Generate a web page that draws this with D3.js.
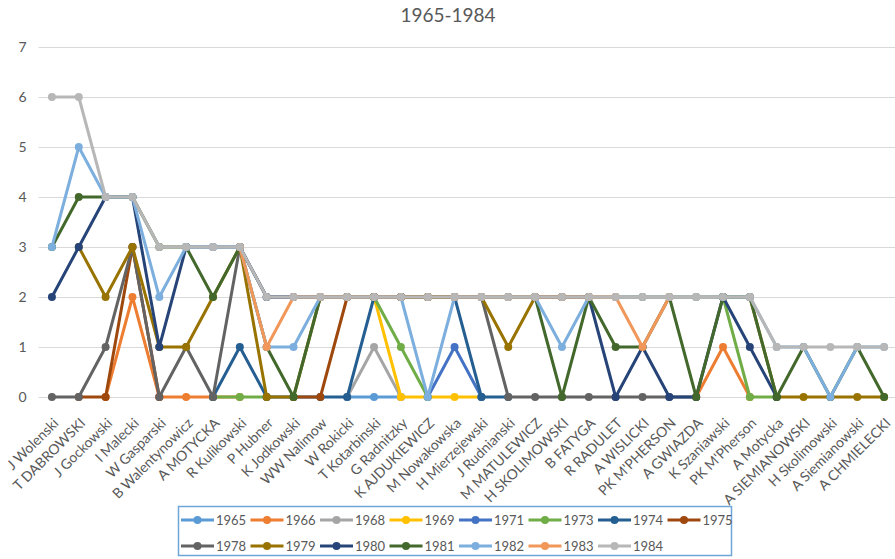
<!DOCTYPE html>
<html>
<head>
<meta charset="utf-8">
<script src="https://cdn.jsdelivr.net/npm/d3@7"></script>
<style>
  body { margin: 0; background: #fff; }
  svg { display: block; font-family: Lato, "Open Sans", sans-serif; }
</style>
</head>
<body>
<svg id="chart"></svg>
<script>
// Categories (authors) along the x axis
const authors = ["J Wolenski", "T DABROWSKI", "J Gockowski", "I Malecki", "W Gasparski",
  "B Walentynowicz", "A MOTYCKA", "R Kulikowski", "P Hubner", "K Jodkowski", "WW Nalimow",
  "W Rokicki", "T Kotarbinski", "G Radnitzky", "K AJDUKIEWICZ", "M Nowakowska",
  "H Mierzejewski", "J Rudnianski", "M MATULEWICZ", "H SKOLIMOWSKI", "B FATYGA",
  "R RADULET", "A WISLICKI", "PK M'PHERSON", "A GWIAZDA", "K Szaniawski", "PK M'Pherson",
  "A Motycka", "A SIEMIANOWSKI", "H Skolimowski", "A Siemianowski", "A CHMIELECKI"];

const yTicks = [0, 1, 2, 3, 4, 5, 6, 7];

// Series values, one per year (null = no point)
const n = null;
const v1965 = [n,n,n,n,n,n,n,n,n,n,n,0,0,0,n,n,n,n,n,n,n,n,n,n,n,n,n,n,n,n,n,n];
const v1966 = [n,n,0,2,0,0,0,0,n,n,n,n,n,n,n,n,n,n,n,n,n,n,n,n,0,1,0,n,n,n,n,n];
const v1968 = [n,n,n,n,n,n,n,n,n,n,n,0,1,0,n,n,n,n,n,n,n,n,n,n,n,n,n,n,n,n,n,n];
const v1969 = [n,n,n,n,n,n,n,n,n,n,n,n,2,0,0,0,0,n,n,n,n,n,n,n,n,n,n,n,n,n,n,n];
const v1971 = [n,n,n,n,n,n,n,n,n,n,n,n,n,n,0,1,0,n,n,n,n,n,n,n,n,n,n,n,n,n,n,n];
const v1973 = [n,n,n,n,n,n,0,0,0,n,n,n,2,1,0,n,n,n,n,n,n,n,n,n,n,2,0,0,n,n,n,n];
const v1974 = [n,n,n,n,n,n,0,1,0,0,0,0,2,2,2,2,0,0,n,n,n,n,n,n,n,n,n,n,n,n,n,n];
const v1975 = [n,0,0,3,0,n,n,n,n,0,0,2,n,n,n,n,n,n,n,n,n,n,n,n,n,n,n,n,n,n,n,n];
const v1978 = [0,0,1,3,0,1,0,3,2,2,2,2,2,2,2,2,2,0,0,0,0,0,0,0,0,n,n,n,n,n,n,n];
const v1979 = [n,3,2,3,1,1,2,3,0,0,2,2,2,2,2,2,2,1,2,2,2,2,2,2,2,2,2,0,0,0,0,0];
const v1980 = [2,3,4,4,1,3,3,3,2,2,2,2,2,2,2,2,2,2,2,2,2,0,1,0,0,2,1,0,n,n,n,n];
const v1981 = [3,4,4,4,3,3,2,3,1,0,2,2,2,2,2,2,2,2,2,0,2,1,1,2,0,2,2,0,1,0,1,0];
const v1982 = [3,5,4,4,2,3,3,3,1,1,2,2,2,2,0,2,2,2,2,1,2,2,2,2,2,2,2,1,1,0,1,1];
const v1983 = [n,n,n,n,n,n,n,3,1,2,2,2,2,2,2,2,2,2,2,2,2,2,1,2,n,n,n,n,n,n,n,n];
const v1984 = [6,6,4,4,3,3,3,3,2,2,2,2,2,2,2,2,2,2,2,2,2,2,2,2,2,2,2,1,1,1,1,1];

const years = ["1965", "1966", "1968", "1969", "1971", "1973", "1974", "1975",
  "1978", "1979", "1980", "1981", "1982", "1983", "1984"];
const values = [v1965, v1966, v1968, v1969, v1971, v1973, v1974, v1975,
  v1978, v1979, v1980, v1981, v1982, v1983, v1984];
const colors = ["#5B9BD5", "#ED7D31", "#A5A5A5", "#FFC000", "#4472C4", "#70AD47", "#255E91",
  "#9E480E", "#636363", "#997300", "#264478", "#43682B", "#7CAFDD", "#F1975A", "#B7B7B7"];

const series = years.map((y, i) => ({ year: y, color: colors[i], values: values[i] }));

// Layout
const width = 895, height = 559;
const textColor = "#595959";

const svg = d3.select("#chart")
  .attr("width", width)
  .attr("height", height);

const x = d3.scalePoint()
  .domain(authors)
  .range([38.5, 897.5])
  .padding(0.5);

const y = d3.scaleLinear()
  .domain([0, 7])
  .range([397, 47]);

// Title
svg.append("text")
  .attr("x", 448)
  .attr("y", 22)
  .attr("text-anchor", "middle")
  .style("font-size", "19px")
  .style("fill", textColor)
  .text("1965-1984");

// Gridlines + y labels
const yAxis = svg.append("g")
  .attr("transform", "translate(38.5,0)")
  .call(d3.axisLeft(y).tickValues(yTicks).tickSize(-(width - 38.5)).tickPadding(12).tickFormat(d3.format("d")));
yAxis.select(".domain").remove();
yAxis.selectAll(".tick line").attr("stroke", "#D9D9D9").attr("stroke-width", 1);
yAxis.selectAll(".tick text")
  .style("font-size", "14px")
  .style("font-family", "Lato, 'Open Sans', sans-serif")
  .attr("fill", textColor);

// Category labels, rotated
const xAxis = svg.append("g")
  .attr("transform", "translate(0,397)")
  .call(d3.axisBottom(x).tickSize(0).tickPadding(0));
xAxis.select(".domain").remove();
xAxis.selectAll(".tick text")
  .style("font-size", "14px")
  .style("font-family", "Lato, 'Open Sans', sans-serif")
  .attr("fill", textColor)
  .attr("text-anchor", "end")
  .attr("dy", null)
  .attr("y", 0)
  .attr("transform", "translate(7,27) rotate(-45)");

// Lines and markers, series by series
const line = d3.line()
  .defined(d => d != null)
  .x((d, i) => x(authors[i]))
  .y(d => y(d));

const plot = svg.append("g");
series.forEach(s => {
  const g = plot.append("g");
  g.append("path")
    .datum(s.values)
    .attr("fill", "none")
    .attr("stroke", s.color)
    .attr("stroke-width", 3)
    .attr("stroke-linejoin", "round")
    .attr("d", line);
  g.selectAll("circle")
    .data(s.values.map((v, i) => ({ v, i })).filter(d => d.v != null))
    .enter()
    .append("circle")
    .attr("cx", d => x(authors[d.i]))
    .attr("cy", d => y(d.v))
    .attr("r", 4)
    .attr("fill", s.color);
});

// Legend, two rows in a framed box
const legend = svg.append("g");
legend.append("rect")
  .attr("x", 178.5)
  .attr("y", 506.5)
  .attr("width", 553)
  .attr("height", 49)
  .attr("fill", "none")
  .attr("stroke", "#6FA6DA")
  .attr("stroke-width", 1.5);

const perRow = 8;
series.forEach((s, i) => {
  const lx = 181 + (i % perRow) * 69.5;
  const ly = i < perRow ? 520 : 546;
  const item = legend.append("g").attr("transform", `translate(${lx},${ly})`);
  item.append("line")
    .attr("x1", 0).attr("x2", 33)
    .attr("stroke", s.color)
    .attr("stroke-width", 3);
  item.append("circle")
    .attr("cx", 16.5)
    .attr("r", 4)
    .attr("fill", s.color);
  item.append("text")
    .attr("x", 35)
    .attr("dy", "0.35em")
    .style("font-size", "13px")
    .style("fill", textColor)
    .text(s.year);
});
</script>
</body>
</html>
